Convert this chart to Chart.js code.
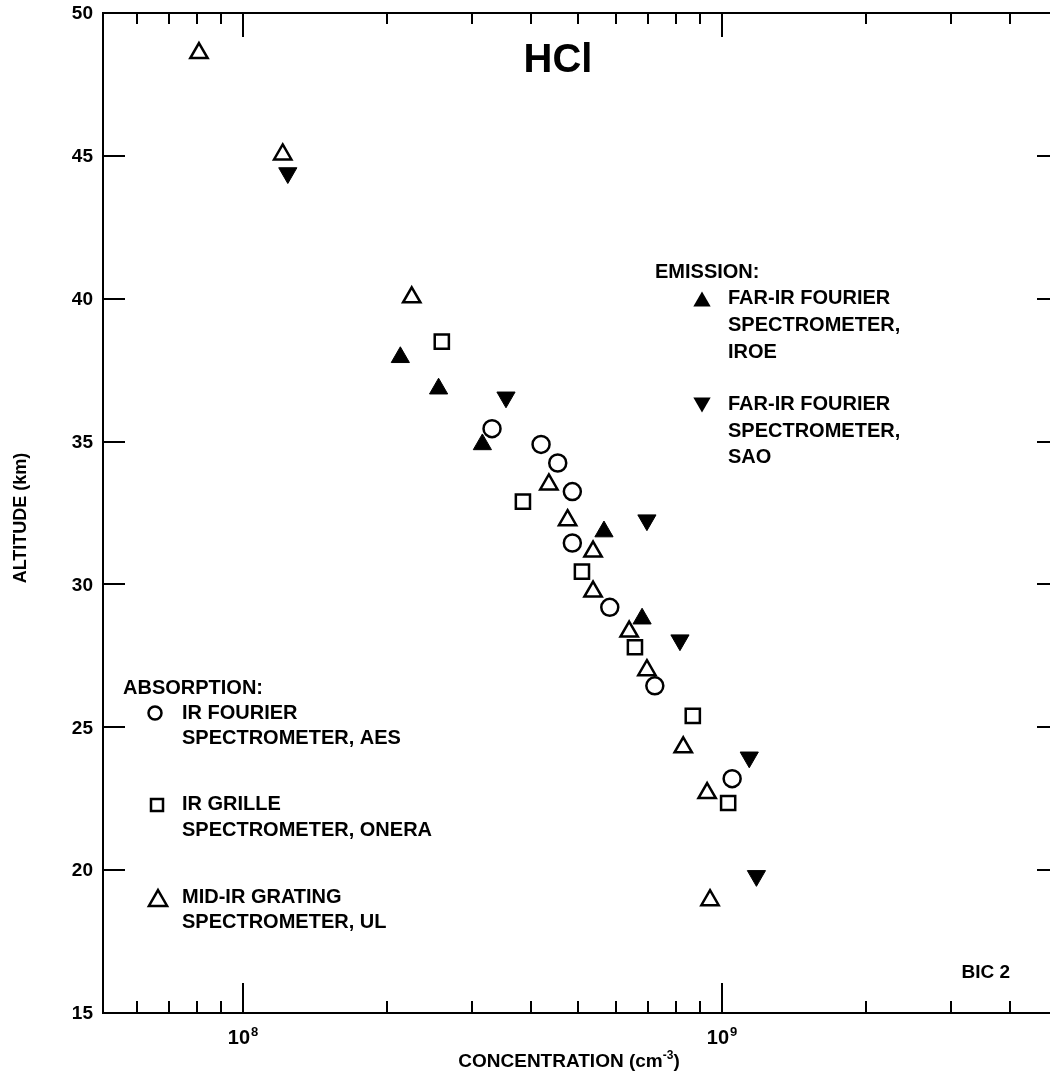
<!DOCTYPE html>
<html>
<head>
<meta charset="utf-8">
<script src="https://cdn.jsdelivr.net/npm/chart.js@4.4.1/dist/chart.umd.min.js"></script>
<style>
body { margin: 0; background: #fff; }
#wrap { width: 1050px; height: 1078px; }
</style>
</head>
<body>
<div id="wrap"><canvas id="myChart" width="1050" height="1078"></canvas></div>
<script>
// HCl profiles, BIC 2 -- concentration (cm-3) vs altitude (km)
var aesConc = [3.31e8, 4.19e8, 4.54e8, 4.87e8, 4.87e8, 5.83e8, 7.24e8, 1.05e9]
var aesAlt = [35.45, 34.9, 34.25, 33.25, 31.45, 29.2, 26.45, 23.2]

var oneraConc = [2.60e8, 3.84e8, 5.10e8, 6.58e8, 8.69e8, 1.03e9]
var oneraAlt = [38.5, 32.9, 30.45, 27.8, 25.4, 22.35]

var ulConc = [8.09e7, 1.21e8, 2.25e8, 4.35e8, 4.76e8, 5.38e8, 5.38e8, 6.40e8, 6.97e8, 8.30e8, 9.31e8, 9.44e8]
var ulAlt = [48.6, 45.05, 40.05, 33.5, 32.25, 31.15, 29.75, 28.35, 27.0, 24.3, 22.7, 18.95]

var iroeConc = [2.13e8, 2.56e8, 3.16e8, 5.67e8, 6.81e8]
var iroeAlt = [37.95, 36.85, 34.9, 31.85, 28.8]

var saoConc = [1.24e8, 3.54e8, 6.97e8, 8.17e8, 1.14e9, 1.18e9]
var saoAlt = [44.4, 36.55, 32.25, 28.05, 23.95, 19.8]

// axis ticks
var xMinor = [6e7, 7e7, 8e7, 9e7, 2e8, 3e8, 4e8, 5e8, 6e8, 7e8, 8e8, 9e8, 2e9, 3e9, 4e9]
var xMajor = [1e8, 1e9]
var xMajorExp = ['8', '9']
var yTicks = [15, 20, 25, 30, 35, 40, 45, 50]

var FONT = '"Liberation Sans", Arial, Helvetica, sans-serif'
function bold(px) { return 'bold ' + px + 'px ' + FONT }

function pts(xs, ys) {
	return xs.map(function (v, i) { return { x: v, y: ys[i] } })
}

function glyph(ctx, type, x, y, r) {
	ctx.beginPath()
	if (type == 'circle') {
		ctx.arc(x, y, r, 0, Math.PI * 2)
		ctx.stroke()
	} else if (type == 'square') {
		ctx.rect(x - r, y - r, 2 * r, 2 * r)
		ctx.stroke()
	} else {
		var h = r * 1.5, w = r * 0.866
		var dir = (type == 'down') ? -1 : 1
		ctx.moveTo(x, y - dir * h / 2)
		ctx.lineTo(x + w, y + dir * h / 2)
		ctx.lineTo(x - w, y + dir * h / 2)
		ctx.closePath()
		if (type == 'open') ctx.stroke()
		else ctx.fill()
	}
}

var axesPlugin = {
	id: 'axesPlugin',
	afterDraw: function (chart) {
		var ctx = chart.ctx
		var xs = chart.scales.x, ys = chart.scales.y
		var a = chart.chartArea
		ctx.save()
		ctx.strokeStyle = '#000'
		ctx.fillStyle = '#000'
		ctx.lineWidth = 2

		// frame (right side is cut off in the original)
		ctx.beginPath()
		ctx.moveTo(a.right, a.top)
		ctx.lineTo(a.left, a.top)
		ctx.lineTo(a.left, a.bottom)
		ctx.lineTo(a.right, a.bottom)
		ctx.stroke()

		// inward ticks
		ctx.beginPath()
		xMinor.forEach(function (v) {
			var px = Math.round(xs.getPixelForValue(v))
			ctx.moveTo(px, a.bottom); ctx.lineTo(px, a.bottom - 12)
			ctx.moveTo(px, a.top); ctx.lineTo(px, a.top + 11)
		})
		xMajor.forEach(function (v) {
			var px = Math.round(xs.getPixelForValue(v))
			ctx.moveTo(px, a.bottom); ctx.lineTo(px, a.bottom - 30)
			ctx.moveTo(px, a.top); ctx.lineTo(px, a.top + 24)
		})
		yTicks.forEach(function (v) {
			if (v <= 15 || v >= 50) return
			var py = Math.round(ys.getPixelForValue(v))
			ctx.moveTo(a.left, py); ctx.lineTo(a.left + 22, py)
			ctx.moveTo(a.right - 13, py); ctx.lineTo(a.right, py)
		})
		ctx.stroke()

		// y tick labels
		ctx.font = bold(19)
		ctx.textAlign = 'right'
		ctx.textBaseline = 'middle'
		yTicks.forEach(function (v) {
			ctx.fillText(String(v), a.left - 10, ys.getPixelForValue(v) + 1)
		})

		// x tick labels 10^n
		ctx.textAlign = 'left'
		ctx.textBaseline = 'alphabetic'
		xMajor.forEach(function (v, i) {
			var px = xs.getPixelForValue(v)
			ctx.font = bold(20)
			var w1 = ctx.measureText('10').width
			ctx.font = bold(13)
			var w2 = ctx.measureText(xMajorExp[i]).width
			var x0 = px - (w1 + w2 + 1) / 2
			ctx.font = bold(20)
			ctx.fillText('10', x0, 1044)
			ctx.font = bold(13)
			ctx.fillText(xMajorExp[i], x0 + w1 + 1, 1036)
		})

		// x title with superscript
		ctx.font = bold(19)
		var t1 = 'CONCENTRATION (cm', t3 = ')'
		var w1 = ctx.measureText(t1).width, w3 = ctx.measureText(t3).width
		ctx.font = bold(12)
		var w2 = ctx.measureText('-3').width
		var xs0 = 569 - (w1 + w2 + w3) / 2
		ctx.font = bold(19)
		ctx.fillText(t1, xs0, 1067)
		ctx.fillText(t3, xs0 + w1 + w2, 1067)
		ctx.font = bold(12)
		ctx.fillText('-3', xs0 + w1, 1059)

		// y title
		ctx.save()
		ctx.translate(26, (a.top + a.bottom) / 2 + 5)
		ctx.rotate(-Math.PI / 2)
		ctx.font = bold(18)
		ctx.textAlign = 'center'
		ctx.fillText('ALTITUDE (km)', 0, 0)
		ctx.restore()

		// title
		ctx.font = bold(40)
		ctx.textAlign = 'center'
		ctx.fillText('HCl', 558, 72)

		// BIC 2
		ctx.font = bold(19)
		ctx.textAlign = 'right'
		ctx.textBaseline = 'middle'
		ctx.fillText('BIC 2', 1010, 973)

		// emission legend
		ctx.textAlign = 'left'
		ctx.font = bold(20)
		ctx.fillText('EMISSION:', 655, 272)
		ctx.fillText('FAR-IR FOURIER', 728, 298)
		ctx.fillText('SPECTROMETER,', 728, 325)
		ctx.fillText('IROE', 728, 352)
		ctx.fillText('FAR-IR FOURIER', 728, 404)
		ctx.fillText('SPECTROMETER,', 728, 431)
		ctx.fillText('SAO', 728, 457)
		ctx.lineWidth = 2.5
		glyph(ctx, 'up', 702, 299, 10)
		glyph(ctx, 'down', 702, 405, 10)

		// absorption legend
		ctx.fillText('ABSORPTION:', 123, 688)
		ctx.fillText('IR FOURIER', 182, 713)
		ctx.fillText('SPECTROMETER, AES', 182, 738)
		ctx.fillText('IR GRILLE', 182, 804)
		ctx.fillText('SPECTROMETER, ONERA', 182, 830)
		ctx.fillText('MID-IR GRATING', 182, 897)
		ctx.fillText('SPECTROMETER, UL', 182, 922)
		glyph(ctx, 'circle', 155, 713, 6.5)
		glyph(ctx, 'square', 157, 805, 6)
		glyph(ctx, 'open', 158, 898, 10.5)

		ctx.restore()
	}
}

var myChart = document.getElementById('myChart').getContext('2d')
var chart = new Chart(myChart, {
	type: 'scatter',
	data: {
		datasets: [
			{
				label: 'IR Fourier spectrometer, AES',
				data: pts(aesConc, aesAlt),
				pointStyle: 'circle',
				pointRadius: 8.5,
				borderWidth: 2.5,
				borderColor: '#000',
				backgroundColor: '#fff'
			},
			{
				label: 'IR grille spectrometer, ONERA',
				data: pts(oneraConc, oneraAlt),
				pointStyle: 'rect',
				pointRadius: 10,
				borderWidth: 2.5,
				borderColor: '#000',
				backgroundColor: '#fff'
			},
			{
				label: 'Mid-IR grating spectrometer, UL',
				data: pts(ulConc, ulAlt),
				pointStyle: 'triangle',
				pointRadius: 10,
				borderWidth: 2.5,
				borderColor: '#000',
				backgroundColor: '#fff'
			},
			{
				label: 'Far-IR Fourier spectrometer, IROE',
				data: pts(iroeConc, iroeAlt),
				pointStyle: 'triangle',
				pointRadius: 10.5,
				borderWidth: 1,
				borderColor: '#000',
				backgroundColor: '#000'
			},
			{
				label: 'Far-IR Fourier spectrometer, SAO',
				data: pts(saoConc, saoAlt),
				pointStyle: 'triangle',
				rotation: 180,
				pointRadius: 10.5,
				borderWidth: 1,
				borderColor: '#000',
				backgroundColor: '#000'
			}
		]
	},
	options: {
		responsive: false,
		animation: false,
		devicePixelRatio: 1,
		layout: { autoPadding: false, padding: { left: 103, top: 13, right: 0, bottom: 65 } },
		scales: {
			x: { type: 'logarithmic', min: 5.1e7, max: 4.84e9, display: false },
			y: { type: 'linear', min: 15, max: 50, display: false }
		},
		plugins: {
			legend: { display: false },
			tooltip: { enabled: false }
		}
	},
	plugins: [axesPlugin]
})
</script>
</body>
</html>
